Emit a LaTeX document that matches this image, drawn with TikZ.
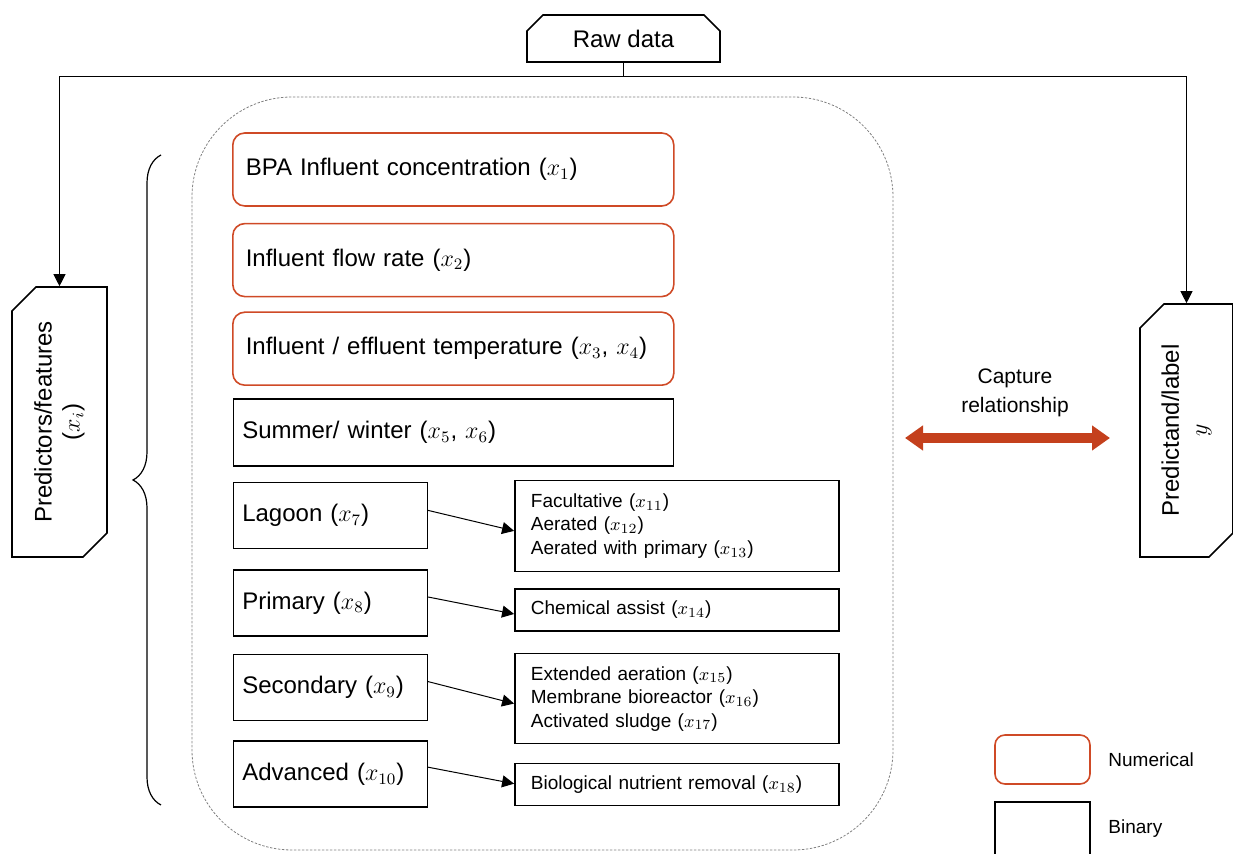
\documentclass[tikz,border=0pt]{standalone}
\usepackage{fontspec}
\setmainfont{Liberation Sans}
\usetikzlibrary{arrows.meta, positioning, shapes.misc, decorations.pathreplacing}
\definecolor{mBrickRed}{HTML}{CF4A26}
\definecolor{mArrowRed}{HTML}{C4401D}

\begin{document}
\begin{tikzpicture}[x=0.5pt, y=-0.5pt,
    numbox/.style={draw=mBrickRed, line width=0.8pt, rounded corners=6pt, text width=207.5pt, inner xsep=6.5pt, minimum height=36.5pt, align=left, font=\fontsize{12}{14}\selectfont},
    binbox/.style={draw, line width=0.8pt, inner xsep=4.5pt, minimum height=33pt, align=left, font=\fontsize{12}{14}\selectfont},
    subbox/.style={draw, line width=0.8pt, text width=146pt, inner xsep=8pt, align=left, font=\fontsize{9.5}{11.75}\selectfont},
    chambox/.style={draw, line width=0.8pt, chamfered rectangle, chamfered rectangle xsep=6pt, chamfered rectangle ysep=6pt, align=center, font=\fontsize{12}{14}\selectfont},
    arr/.style={-{Triangle[length=6pt, width=6pt]}, line width=0.5pt},
    frame/.style={draw=gray, line width=0.4pt, dash pattern=on 1.2pt off 0.8pt, rounded corners=50pt},
    dbl/.style={{Triangle[length=9pt, width=12pt]}-{Triangle[length=9pt, width=12pt]}, line width=5pt, color=mArrowRed},
    legtext/.style={anchor=west, inner sep=0pt, font=\fontsize{9.5}{11}\selectfont}
]
    \useasboundingbox (0,0) rectangle (1233,854);

    % source and targets
    \node[chambox, chamfered rectangle corners={north west, north east}, chamfered rectangle xsep=4pt, chamfered rectangle ysep=4pt, minimum width=96.5pt, minimum height=21.5pt] (raw) at (623.5,38.5) {Raw data};
    \node[chambox, rotate=90, chamfered rectangle corners={north east, south west}, minimum width=135pt, minimum height=47.5pt] (pred) at (59.5,422) {Predictors/features\\($x_i$)};
    \node[chambox, rotate=90, chamfered rectangle corners={north east, south west}, minimum width=126.5pt, minimum height=46.5pt] (label) at (1186.5,430.5) {Predictand/label\\$y$};

    \coordinate (split) at (623.5,77);
    \draw[line width=0.5pt] (raw.south) -- (split);
    \draw[arr] (split) -| (pred.east);
    \draw[arr] (split) -| (label.east);

    % feature frame
    \draw[frame] (192,97) rectangle (893,850);
    \draw[decorate, decoration={brace, amplitude=14pt}, line width=0.6pt] (161,805) -- (161,155);

    % numerical features
    \node[numbox, anchor=west] (bpa) at (232,169.5) {BPA Influent concentration ($x_1$)};
    \node[numbox, below=8pt of bpa] (flow) {Influent flow rate ($x_2$)};
    \node[numbox, below=7pt of flow] (temp) {Influent / effluent temperature ($x_3$, $x_4$)};

    % binary features
    \node[binbox, text width=211pt, below=6pt of temp, minimum height=33.5pt] (season) {Summer/ winter ($x_5$, $x_6$)};
    \node[binbox, text width=88pt, below right=7.5pt and 0pt of season.south west] (lag) {Lagoon ($x_7$)};
    \node[binbox, text width=88pt, below=10pt of lag] (prim) {Primary ($x_8$)};
    \node[binbox, text width=88pt, below=8.5pt of prim] (sec) {Secondary ($x_9$)};
    \node[binbox, text width=88pt, below=9.5pt of sec] (adv) {Advanced ($x_{10}$)};

    % sub-types
    \node[subbox, right=43pt of lag, yshift=-5.25pt, minimum height=45.5pt] (fac) {Facultative ($x_{11}$)\\Aerated ($x_{12}$)\\Aerated with primary ($x_{13}$)};
    \node[subbox, right=43pt of prim, yshift=-3.5pt, minimum height=21pt] (chem) {Chemical assist ($x_{14}$)};
    \node[subbox, right=43pt of sec, yshift=-5.5pt, minimum height=45pt] (ext) {Extended aeration ($x_{15}$)\\Membrane bioreactor ($x_{16}$)\\Activated sludge ($x_{17}$)};
    \node[subbox, right=43pt of adv, yshift=-5.25pt, minimum height=21pt] (bio) {Biological nutrient removal ($x_{18}$)};

    \draw[arr] ([yshift=2.5pt]lag.east) -- ([yshift=-2.5pt]fac.west);
    \draw[arr] ([yshift=3pt]prim.east) -- ([yshift=-2pt]chem.west);
    \draw[arr] ([yshift=3pt]sec.east) -- ([yshift=-2.5pt]ext.west);
    \draw[arr] ([yshift=3.5pt]adv.east) -- ([yshift=0.5pt]bio.west);

    % relationship
    \node[align=center, font=\fontsize{10.5}{14.5}\selectfont] (cap) at (1015,393) {Capture\\relationship};
    \coordinate (capL) at (905,438);
    \coordinate (capR) at (1110,438);
    \draw[dbl] (capL) -- (capR);

    % legend
    \node[draw=mBrickRed, line width=0.8pt, rounded corners=5pt, minimum width=47.5pt, minimum height=24.5pt] (lnum) at (1042.5,759.5) {};
    \node[legtext] at (1108,760) {Numerical};
    \node[draw, line width=0.8pt, minimum width=47.5pt, minimum height=28pt] (lbin) at (1042.5,830) {};
    \node[legtext] at (1108,829) {Binary};
\end{tikzpicture}
\end{document}
